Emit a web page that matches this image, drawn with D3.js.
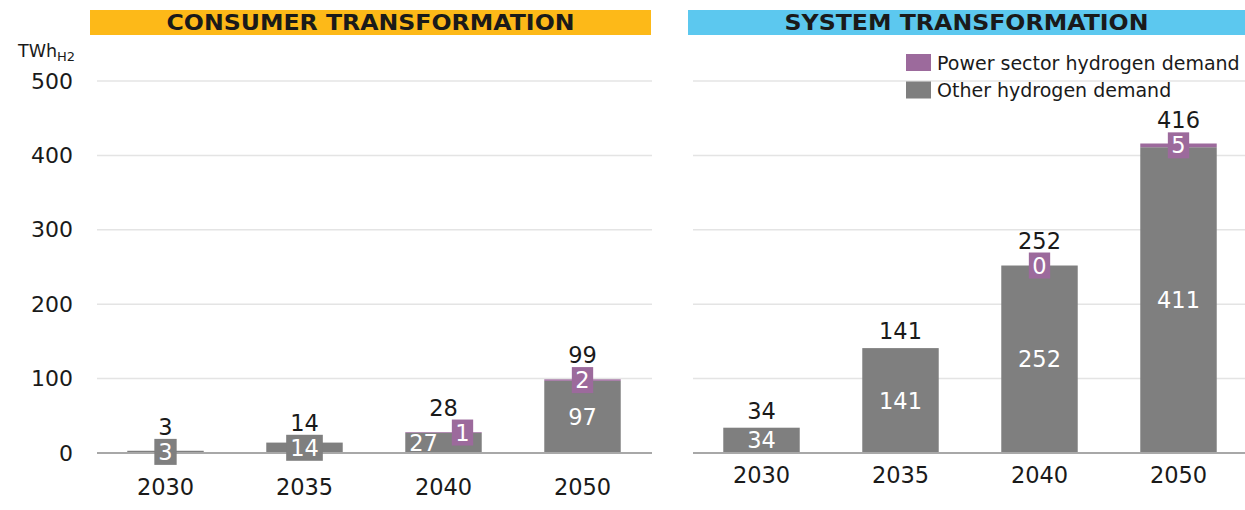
<!DOCTYPE html>
<html>
<head>
<meta charset="utf-8">
<script src="https://cdn.jsdelivr.net/npm/d3@7/dist/d3.min.js"></script>
<style>
  html, body { margin: 0; padding: 0; background: #ffffff; }
  svg { display: block; }
  text { font-family: "DejaVu Sans", Verdana, sans-serif; }
</style>
</head>
<body>
<svg id="chart" width="1245" height="510"></svg>
<script>
// Hydrogen demand by scenario (TWh of H2)
const years = ["2030", "2035", "2040", "2050"];
const yTicks = [0, 100, 200, 300, 400, 500];

const consumerOther = [3, 14, 27, 97];
const consumerPower = [null, null, 1, 2];
const consumerTotal = [3, 14, 28, 99];

const systemOther = [34, 141, 252, 411];
const systemPower = [null, null, 0, 5];
const systemTotal = [34, 141, 252, 416];

const panelTitles = ["CONSUMER TRANSFORMATION", "SYSTEM TRANSFORMATION"];
const legendLabels = ["Power sector hydrogen demand", "Other hydrogen demand"];

const COLORS = {
  other: "#7f7f7f",
  power: "#9c6a9c",
  grid: "#e4e4e4",
  base: "#a8a8a8",
  yellow: "#fdb918",
  blue: "#5cc8ef",
  text: "#1a1a1a"
};

const NUM_SIZE = 22.5;

const svg = d3.select("#chart");

const y = d3.scaleLinear().domain([0, 500]).range([453, 81]);

const panels = [
  { title: panelTitles[0], band: COLORS.yellow, bandX: [90, 651], range: [96, 652], titleLen: 408,
    other: consumerOther, power: consumerPower, total: consumerTotal, yearPad: 26 },
  { title: panelTitles[1], band: COLORS.blue, bandX: [688, 1245], range: [692, 1248], titleLen: 364,
    other: systemOther, power: systemPower, total: systemTotal, yearPad: 14 }
];

// y axis labels
const yAxis = d3.axisLeft(y).tickValues(yTicks).tickSize(0).tickPadding(0);
const yg = svg.append("g").attr("transform", "translate(73,0)").call(yAxis);
yg.select(".domain").remove();
yg.selectAll("text")
  .attr("font-family", "DejaVu Sans, Verdana, sans-serif")
  .attr("font-size", 22)
  .attr("fill", COLORS.text);

// unit label
const unit = svg.append("text").attr("x", 18).attr("y", 56.5)
  .attr("font-size", 17.5).attr("fill", COLORS.text);
unit.append("tspan").text("TWh");
unit.append("tspan").attr("font-size", 13).attr("dy", 4.5).text("H2");

const BOX_H = 26;

panels.forEach(p => {
  const x = d3.scaleBand().domain(years).range(p.range).paddingInner(0.45).paddingOuter(0.225);
  const g = svg.append("g");

  // title band
  g.append("rect").attr("x", p.bandX[0]).attr("y", 10)
    .attr("width", p.bandX[1] - p.bandX[0]).attr("height", 25)
    .attr("fill", p.band);
  g.append("text").attr("x", (p.bandX[0] + p.bandX[1]) / 2).attr("y", 22.5)
    .attr("dy", "0.36em").attr("text-anchor", "middle")
    .attr("font-size", 21).attr("font-weight", "bold").attr("fill", COLORS.text)
    .attr("textLength", p.titleLen).attr("lengthAdjust", "spacingAndGlyphs")
    .text(p.title);

  // gridlines
  g.selectAll("line.grid").data(yTicks.filter(t => t > 0)).join("line")
    .attr("class", "grid")
    .attr("x1", p.range[0] + 1).attr("x2", p.range[1])
    .attr("y1", d => y(d)).attr("y2", d => y(d))
    .attr("stroke", COLORS.grid).attr("stroke-width", 1.5);

  // bars: other demand, then power sector stacked on top
  years.forEach((yr, i) => {
    const o = p.other[i];
    const pw = p.power[i] || 0;
    g.append("rect").attr("x", x(yr)).attr("width", x.bandwidth())
      .attr("y", y(o)).attr("height", y(0) - y(o)).attr("fill", COLORS.other);
    if (pw > 0) {
      g.append("rect").attr("x", x(yr)).attr("width", x.bandwidth())
        .attr("y", y(o + pw)).attr("height", y(o) - y(o + pw)).attr("fill", COLORS.power);
    }
  });

  // baseline
  g.append("line").attr("x1", p.range[0] + 1).attr("x2", p.range[1])
    .attr("y1", y(0)).attr("y2", y(0))
    .attr("stroke", COLORS.base).attr("stroke-width", 2);

  // value labels
  years.forEach((yr, i) => {
    const cx = x(yr) + x.bandwidth() / 2;
    const o = p.other[i];
    const pwRaw = p.power[i];
    const hasPower = pwRaw !== null && pwRaw !== undefined;
    const pw = hasPower ? pwRaw : 0;
    const segH = y(0) - y(o);
    const crowded = hasPower && segH < 40;
    let topEdge = y(o + pw) - 5;

    // other demand label
    const oy = y(o / 2);
    const ox = cx + (crowded ? -20 : 0);
    const oText = g.append("text").attr("x", ox).attr("y", oy).attr("dy", "0.36em")
      .attr("text-anchor", "middle").attr("font-size", NUM_SIZE).attr("fill", "#ffffff")
      .text(o);
    if (segH < 16) {
      const w = oText.node().getComputedTextLength() + 8;
      g.insert("rect", () => oText.node())
        .attr("x", ox - w / 2).attr("y", oy - BOX_H / 2)
        .attr("width", w).attr("height", BOX_H).attr("fill", COLORS.other);
      topEdge = Math.min(topEdge, oy - BOX_H / 2);
    }

    // power sector label
    if (hasPower) {
      const py = y(o + pw / 2);
      const px = cx + (crowded ? 19 : 0);
      const pText = g.append("text").attr("x", px).attr("y", py).attr("dy", "0.36em")
        .attr("text-anchor", "middle").attr("font-size", NUM_SIZE).attr("fill", "#ffffff")
        .text(pwRaw);
      const w = pText.node().getComputedTextLength() + 7;
      g.insert("rect", () => pText.node())
        .attr("x", px - w / 2).attr("y", py - BOX_H / 2)
        .attr("width", w).attr("height", BOX_H).attr("fill", COLORS.power);
      topEdge = Math.min(topEdge, py - BOX_H / 2);
    }

    // total label
    g.append("text").attr("x", cx).attr("y", topEdge - 12).attr("dy", "0.36em")
      .attr("text-anchor", "middle").attr("font-size", NUM_SIZE).attr("fill", COLORS.text)
      .text(p.total[i]);
  });

  // year axis
  const xAxis = d3.axisBottom(x).tickSize(0).tickPadding(p.yearPad);
  const xg = g.append("g").attr("transform", `translate(0,${y(0)})`).call(xAxis);
  xg.select(".domain").remove();
  xg.selectAll("text")
    .attr("font-family", "DejaVu Sans, Verdana, sans-serif")
    .attr("font-size", NUM_SIZE).attr("fill", COLORS.text);
});

// legend
const legend = svg.append("g").attr("transform", "translate(906,54)");
const legendColors = [COLORS.power, COLORS.other];
legendLabels.forEach((lab, i) => {
  const row = legend.append("g").attr("transform", `translate(0,${i * 27.5})`);
  row.append("rect").attr("width", 25).attr("height", 17).attr("fill", legendColors[i]);
  row.append("text").attr("x", 31).attr("y", 9).attr("dy", "0.36em")
    .attr("font-size", 19).attr("fill", COLORS.text).text(lab);
});
</script>
</body>
</html>
